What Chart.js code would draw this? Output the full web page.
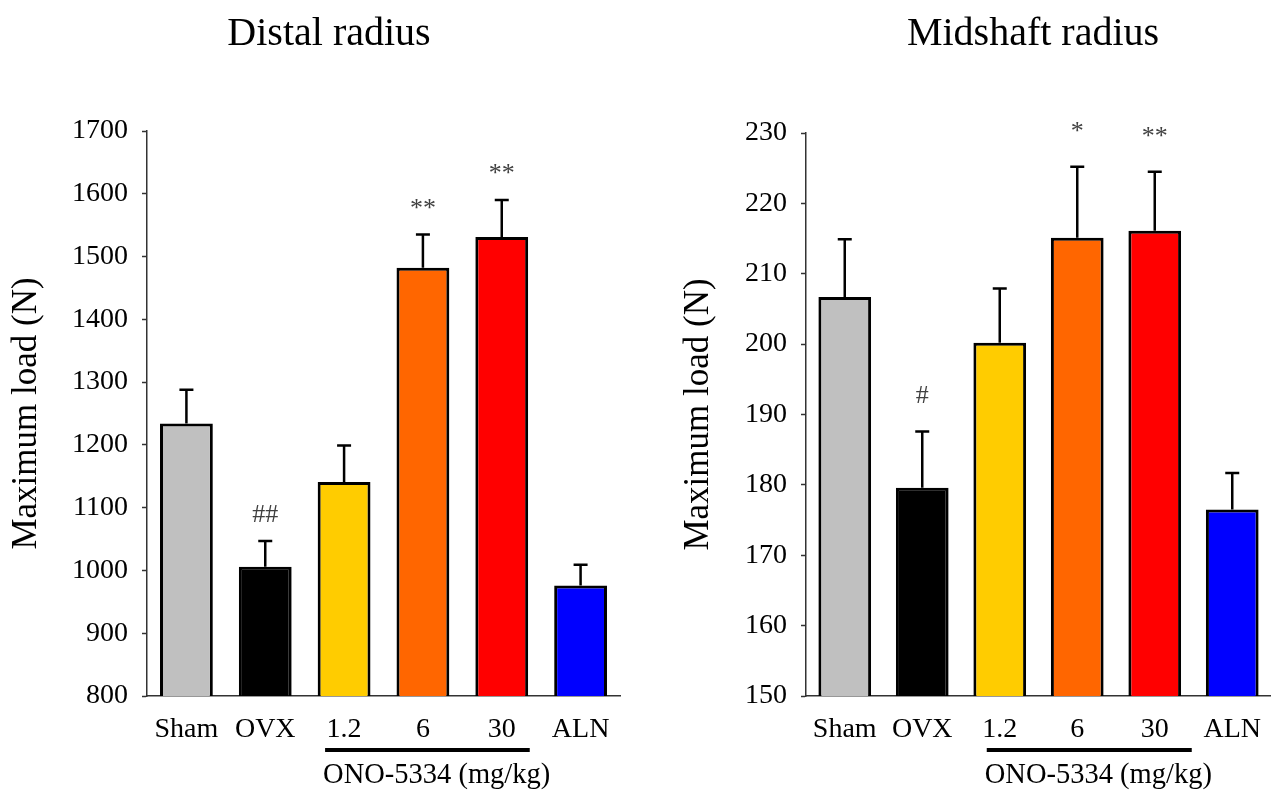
<!DOCTYPE html>
<html>
<head>
<meta charset="utf-8">
<script src="https://cdn.jsdelivr.net/npm/chart.js@4.4.1/dist/chart.umd.min.js"></script>
<style>
  html, body { margin: 0; padding: 0; background: #fff; }
  #wrap { position: relative; width: 1271px; height: 792px; overflow: hidden; }
  .panel { position: absolute; top: 0; height: 792px; }
</style>
</head>
<body>
<div id="wrap">
  <div class="panel" style="left:0;width:640px"><canvas id="distal"></canvas></div>
  <div class="panel" style="left:672px;width:599px"><canvas id="midshaft"></canvas></div>
</div>
<script>
// groups and colours shared by both panels
const groups = ['Sham', 'OVX', '1.2', '6', '30', 'ALN'];
const barColors = ['#C0C0C0', '#000000', '#FFCC00', '#FF6600', '#FF0000', '#0000FF'];

// Distal radius: mean and SEM (N)
const distalMeans = [1234, 1006, 1141, 1482, 1531, 976];
const distalSem = [54, 41, 58, 53, 59, 33];
const distalMarks = ['', '##', '', '**', '**', ''];

// Midshaft radius: mean and SEM (N)
const midshaftMeans = [206.7, 179.6, 200.2, 215.1, 216.1, 176.5];
const midshaftSem = [8.2, 8.0, 7.7, 10.1, 8.4, 5.2];
const midshaftMarks = ['', '#', '', '*', '**', ''];

const SERIF = "'Liberation Serif', 'Times New Roman', serif";

/**
 * Draws error bars, significance marks, panel title and the ONO-5334 group bracket
 */
const extrasPlugin = {
  id: 'extras',
  afterDatasetsDraw(chart, args, opts) {
    const ctx = chart.ctx;
    const xs = chart.scales.x;
    const ys = chart.scales.y;
    const meta = chart.getDatasetMeta(0);
    ctx.save();

    // error bars (upper only)
    ctx.strokeStyle = '#000';
    ctx.lineWidth = 2.5;
    meta.data.forEach((bar, i) => {
      const top = ys.getPixelForValue(opts.means[i] + opts.sem[i]);
      ctx.beginPath();
      ctx.moveTo(bar.x, bar.y);
      ctx.lineTo(bar.x, top);
      ctx.moveTo(bar.x - 7, top);
      ctx.lineTo(bar.x + 7, top);
      ctx.stroke();

      if (opts.marks[i]) {
        ctx.fillStyle = '#404040';
        ctx.font = '26px ' + SERIF;
        ctx.textAlign = 'center';
        ctx.textBaseline = 'alphabetic';
        ctx.fillText(opts.marks[i], bar.x, top - opts.markGap);
      }
    });

    // title
    ctx.fillStyle = '#000';
    ctx.font = '40px ' + SERIF;
    ctx.textAlign = 'center';
    ctx.textBaseline = 'alphabetic';
    ctx.fillText(opts.title, opts.titleX, 45);

    // group bracket under 1.2 / 6 / 30
    const x0 = xs.getPixelForValue(2) - opts.lineLeft;
    const x1 = xs.getPixelForValue(4) + opts.lineRight;
    ctx.lineWidth = 4;
    ctx.beginPath();
    ctx.moveTo(x0, 750);
    ctx.lineTo(x1, 750);
    ctx.stroke();
    ctx.font = '28.5px ' + SERIF;
    ctx.textAlign = 'left';
    ctx.fillText('ONO-5334 (mg/kg)', x0 - 2, 783);

    ctx.restore();
  }
};

function makeChart(canvasId, cfg) {
  const ctx = document.getElementById(canvasId).getContext('2d');
  return new Chart(ctx, {
    type: 'bar',
    data: {
      labels: groups,
      datasets: [{
        data: cfg.means,
        backgroundColor: barColors,
        borderColor: '#000',
        borderWidth: 3,
        borderSkipped: false,
        categoryPercentage: 1,
        barPercentage: cfg.barPct
      }]
    },
    options: {
      responsive: true,
      maintainAspectRatio: false,
      animation: false,
      events: [],
      layout: {
        padding: { top: cfg.top, right: cfg.right, bottom: 0, left: 0 }
      },
      plugins: {
        legend: { display: false },
        tooltip: { enabled: false },
        extras: {
          means: cfg.means,
          sem: cfg.sem,
          marks: cfg.marks,
          markGap: cfg.markGap,
          title: cfg.title,
          titleX: cfg.titleX,
          lineLeft: cfg.lineLeft,
          lineRight: cfg.lineRight
        }
      },
      scales: {
        x: {
          grid: { display: false },
          border: { display: true, color: '#333', width: 1.5 },
          ticks: {
            color: '#000',
            font: { family: SERIF, size: 28 },
            padding: 9,
            maxRotation: 0
          },
          afterFit(scale) { scale.height = 96; }
        },
        y: {
          min: cfg.min,
          max: cfg.max,
          grid: {
            drawOnChartArea: false,
            drawTicks: true,
            tickLength: 5,
            tickColor: '#333',
            tickWidth: 1.5
          },
          border: { display: true, color: '#333', width: 1.5 },
          ticks: {
            stepSize: cfg.step,
            color: '#000',
            padding: 14,
            font: { family: SERIF, size: 28 },
            callback: function(value) {
              return String(value);
            }
          },
          title: {
            display: true,
            text: 'Maximum load (N)',
            color: '#000',
            font: { family: SERIF, size: 35 },
            padding: { top: 6, bottom: 0 }
          },
          afterFit(scale) { scale.width = cfg.axisWidth; }
        }
      }
    },
    plugins: [extrasPlugin]
  });
}

makeChart('distal', {
  means: distalMeans, sem: distalSem, marks: distalMarks, markGap: 19,
  min: 800, max: 1700, step: 100,
  top: 131, right: 20, axisWidth: 147, barPct: 0.67,
  title: 'Distal radius', titleX: 329,
  lineLeft: 19, lineRight: 28
});

makeChart('midshaft', {
  means: midshaftMeans, sem: midshaftSem, marks: midshaftMarks, markGap: 28,
  min: 150, max: 230, step: 10,
  top: 133, right: 0, axisWidth: 134, barPct: 0.68,
  title: 'Midshaft radius', titleX: 361,
  lineLeft: 13, lineRight: 37
});
</script>
</body>
</html>
